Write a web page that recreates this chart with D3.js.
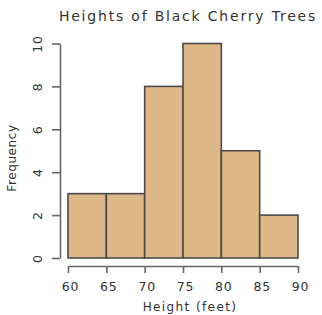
<!DOCTYPE html>
<html><head><meta charset="utf-8">
<script src="https://cdn.jsdelivr.net/npm/d3@7"></script>
<style>body{margin:0;background:#fff}svg{display:block}text{font-family:"DejaVu Sans",sans-serif;fill:#333}</style>
</head><body><svg id="c" width="322" height="315"></svg>
<script>
const binStarts = [60, 65, 70, 75, 80, 85];
const binWidth = 5;
const counts = [3, 3, 8, 10, 5, 2];
const xTicks = [60, 65, 70, 75, 80, 85, 90];
const yTicks = [0, 2, 4, 6, 8, 10];
const title = "Heights of Black Cherry Trees";
const xLabel = "Height (feet)";
const yLabel = "Frequency";

const svg = d3.select("#c");
const x = d3.scaleLinear().domain([60, 90]).range([68, 298]);
const y = d3.scaleLinear().domain([0, 10]).range([258, 43.5]);

svg.selectAll("rect.bar").data(counts).join("rect")
  .attr("class", "bar")
  .attr("x", (d, i) => x(binStarts[i]))
  .attr("width", (d, i) => x(binStarts[i] + binWidth) - x(binStarts[i]))
  .attr("y", d => y(d))
  .attr("height", d => y(0) - y(d))
  .attr("fill", "#deb887").attr("stroke", "#4a4a4a").attr("stroke-width", 1.6);

const xa = svg.append("g").attr("transform", "translate(0,266)")
  .call(d3.axisBottom(x).tickValues(xTicks).tickSize(7).tickPadding(9).tickSizeOuter(0));
const ya = svg.append("g").attr("transform", "translate(60,0)")
  .call(d3.axisLeft(y).tickValues(yTicks).tickSize(8).tickPadding(6).tickSizeOuter(0));
[xa, ya].forEach(a => {
  a.select(".domain").attr("stroke", "#666").attr("stroke-width", 1.6);
  a.selectAll(".tick line").attr("stroke", "#666").attr("stroke-width", 1.6);
  a.selectAll(".tick text").attr("font-size", 12.5).attr("letter-spacing", 0.8).attr("fill", "#333").attr("font-family", "DejaVu Sans");
});
xa.selectAll(".tick text").attr("dx", 2);
ya.selectAll(".tick text").attr("text-anchor", "middle").attr("x", 0).attr("y", 0)
  .attr("transform", "translate(-22,0) rotate(-90)").attr("dy", "0.35em");

svg.append("text").attr("x", 188).attr("y", 21).attr("text-anchor", "middle")
  .attr("font-size", 14).attr("letter-spacing", 1.8).text(title);
svg.append("text").attr("x", 190).attr("y", 311).attr("text-anchor", "middle")
  .attr("font-size", 12).attr("letter-spacing", 1.4).text(xLabel);
svg.append("text").attr("transform", "translate(16,158) rotate(-90)").attr("text-anchor", "middle")
  .attr("font-size", 12).attr("letter-spacing", 0.6).text(yLabel);
</script></body></html>
